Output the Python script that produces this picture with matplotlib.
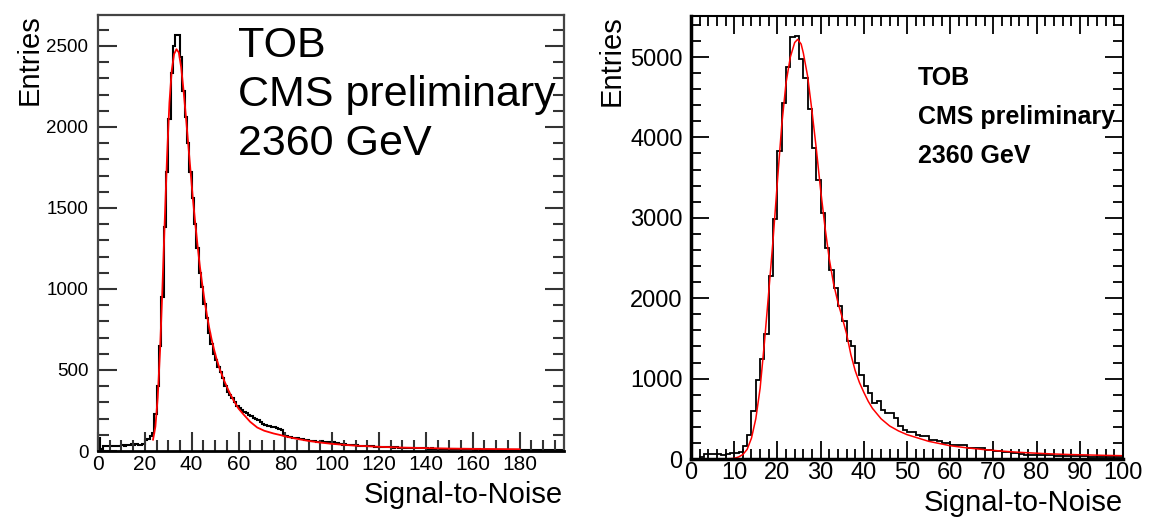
import numpy as np
import matplotlib
matplotlib.use('Agg')
import matplotlib.pyplot as plt
from matplotlib.ticker import MultipleLocator

plt.rcParams['font.family'] = ['Liberation Sans', 'DejaVu Sans']

# TOB, 2360 GeV: signal-to-noise histogram (1 unit bins, 0..200)
left_counts = [
    80, 15, 30, 32, 30, 33, 32, 30, 33, 32,
    35, 30, 34, 38, 42, 40, 42, 38, 40, 42,
    70, 75, 90, 110, 230, 400, 650, 950, 1380, 1720,
    2050, 2330, 2500, 2570, 2570, 2430, 2220, 2060, 1900, 1720,
    1560, 1400, 1250, 1100, 1010, 910, 820, 730, 660, 600,
    560, 520, 490, 450, 400, 365, 345, 330, 300, 280,
    265, 250, 240, 232, 225, 218, 205, 198, 190, 178,
    168, 160, 156, 152, 150, 148, 142, 138, 130, 100,
    92, 88, 85, 82, 80, 78, 76, 72, 68, 66,
    62, 64, 60, 58, 56, 60, 55, 54, 58, 52,
    55, 50, 48, 44, 40, 42, 38, 36, 38, 35,
    34, 33, 32, 30, 31, 29, 28, 29, 27, 26,
    25, 24, 25, 23, 22, 23, 21, 22, 20, 21,
    20, 19, 20, 18, 19, 18, 17, 18, 16, 17,
    16, 15, 16, 14, 15, 14, 13, 14, 13, 12,
    13, 12, 12, 11, 12, 11, 11, 10, 11, 10,
    10, 9, 10, 9, 9, 8, 9, 8, 8, 9,
    8, 7, 8, 7, 8, 7, 7, 6, 7, 6,
    7, 6, 6, 7, 6, 5, 6, 5, 6, 5,
    6, 5, 5, 6, 5, 5, 4, 5, 5, 4,
]
left_fit_x = [23.5, 24.5, 25.5, 26.5, 27.5, 28.5, 29.5, 30.5, 31.5, 32.5,
              33.5, 34.5, 35.5, 36.5, 37.5, 38.5, 39.5, 40.5, 41.5, 42.5,
              43.5, 44.5, 45.5, 46.5, 47.5, 48.5, 49.5, 50.5, 52, 54,
              56, 58, 60, 62, 65, 68, 71, 75, 78, 80,
              85, 90, 95, 100, 110, 120, 130, 140, 150, 160,
              170, 180]
left_fit_y = [70, 150, 330, 620, 1000, 1420, 1820, 2150, 2350, 2450,
              2480, 2460, 2370, 2230, 2070, 1900, 1730, 1560, 1410, 1270,
              1140, 1030, 930, 840, 760, 690, 630, 575, 505, 430,
              365, 310, 262, 228, 180, 145, 125, 108, 98, 90,
              75, 62, 52, 44, 33, 26, 21, 18, 15, 13,
              12, 11]

# right panel: 1 unit bins, 0..100
right_counts = [
    0, 0, 25, 60, 62, 65, 60, 55, 58, 72,
    75, 90, 166, 303, 593, 988, 1250, 1550, 2270, 2980,
    3830, 4430, 4880, 5250, 5260, 4970, 4740, 4350, 3870, 3470,
    3060, 2630, 2350, 2130, 1900, 1720, 1470, 1400, 1200, 1050,
    905, 822, 697, 718, 614, 575, 570, 510, 415, 365,
    335, 330, 303, 285, 280, 241, 235, 230, 200, 198,
    180, 178, 176, 170, 140, 138, 135, 132, 110, 108,
    105, 100, 85, 83, 80, 78, 56, 54, 55, 52,
    50, 52, 48, 45, 38, 37, 36, 38, 35, 34,
    36, 33, 26, 25, 27, 24, 25, 23, 24, 22,
]
right_fit_x = [0, 8, 10, 11, 12, 13, 14, 15, 16, 17,
               18, 19, 20, 21, 22, 23, 24, 24.7, 25.5, 26,
               27, 28, 29, 30, 31, 32, 33, 34, 35, 36,
               37, 38, 39, 40, 41, 42, 44, 46, 48, 50,
               55, 60, 64, 68, 72, 76, 80, 84, 88, 92,
               96, 100]
right_fit_y = [0, 0, 8, 25, 55, 120, 260, 500, 880, 1450,
               2080, 2730, 3450, 4150, 4680, 5000, 5180, 5220, 5160, 5050,
               4760, 4330, 3860, 3350, 2890, 2490, 2180, 1950, 1760, 1560,
               1300, 1100, 950, 830, 720, 630, 500, 410, 350, 303,
               220, 165, 138, 116, 98, 83, 72, 62, 55, 50,
               45, 41]

W, H = 1149, 519
fig = plt.figure(figsize=(W / 100, H / 100), dpi=100)

def px(x0, y0, x1, y1):
    return [x0 / W, 1 - y1 / H, (x1 - x0) / W, (y1 - y0) / H]

# ---- left panel ----
ax1 = fig.add_axes(px(98, 15, 564, 451))
edges1 = np.arange(len(left_counts) + 1)
ax1.stairs(left_counts, edges1, color='black', lw=1.5)
ax1.plot(left_fit_x, left_fit_y, color='#ff0000', lw=1.3)
ax1.set_xlim(0, 199)
ax1.set_ylim(0, 2691)
ax1.xaxis.set_minor_locator(MultipleLocator(5))
ax1.yaxis.set_major_locator(MultipleLocator(500))
ax1.yaxis.set_minor_locator(MultipleLocator(100))
ax1.set_xticks(range(0, 181, 20))
ax1.tick_params(which='both', direction='in', top=False, right=True,
                color='#333333', width=1.5)
ax1.tick_params(which='major', length=14, labelsize=13.5, pad=7)
ax1.tick_params(which='minor', length=8)
ax1.tick_params(axis='x', labelsize=15, pad=3)
for s in ax1.spines.values():
    s.set_color('#444444')
    s.set_linewidth(1.6)
ax1.spines['bottom'].set_color('black')
ax1.spines['bottom'].set_linewidth(2)

fig.text(30 / W, 1 - 60 / H, 'Entries', rotation=90, ha='center', va='center',
         fontsize=21)
fig.text(563 / W, 1 - 495 / H, 'Signal-to-Noise', ha='right', va='center',
         fontsize=21)
for i, t in enumerate(['TOB', 'CMS preliminary', '2360 GeV']):
    fig.text(238 / W, 1 - (46 + 49 * i) / H, t, ha='left', va='center',
             fontsize=31)

# ---- right panel ----
ax2 = fig.add_axes(px(691, 16, 1123, 459))
edges2 = np.arange(len(right_counts) + 1)
ax2.stairs(right_counts, edges2, color='black', lw=1.3)
ax2.plot(right_fit_x, right_fit_y, color='#ff0000', lw=1.1)
ax2.set_xlim(0, 100)
ax2.set_ylim(0, 5510)
ax2.xaxis.set_major_locator(MultipleLocator(10))
ax2.xaxis.set_minor_locator(MultipleLocator(2))
ax2.yaxis.set_major_locator(MultipleLocator(1000))
ax2.yaxis.set_minor_locator(MultipleLocator(200))
ax2.tick_params(which='both', direction='in', top=True, right=True,
                color='black', width=1.3)
ax2.tick_params(which='major', length=13, labelsize=17, pad=6)
ax2.tick_params(which='minor', length=7)
ax2.tick_params(axis='x', pad=2)
for s in ax2.spines.values():
    s.set_color('black')
    s.set_linewidth(1.5)
ax2.spines['left'].set_linewidth(2.5)
ax2.spines['bottom'].set_linewidth(2.5)

fig.text(612 / W, 1 - 61 / H, 'Entries', rotation=90, ha='center', va='center',
         fontsize=21)
fig.text(1123 / W, 1 - 503 / H, 'Signal-to-Noise', ha='right', va='center',
         fontsize=21)
for i, t in enumerate(['TOB', 'CMS preliminary', '2360 GeV']):
    fig.text(918 / W, 1 - (78 + 39 * i) / H, t, ha='left', va='center',
             fontsize=18, fontweight='bold')

fig.savefig('out.png', dpi=100)
